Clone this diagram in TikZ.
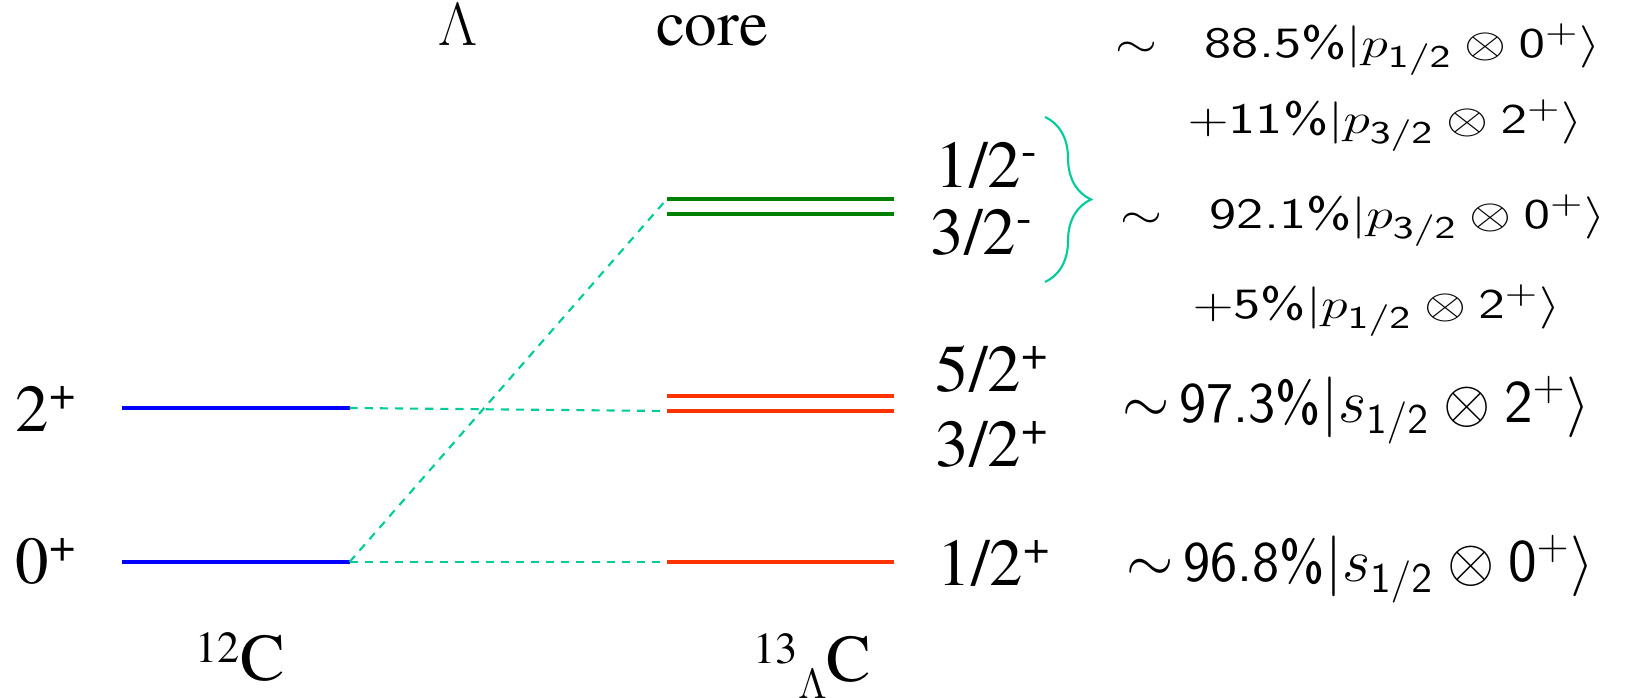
\documentclass[tikz,border=0pt]{standalone}
\usepackage[no-math]{fontspec}
\setmainfont{texgyretermes}[Extension=.otf, UprightFont=*-regular, BoldFont=*-bold, ItalicFont=*-italic, BoldItalicFont=*-bolditalic]
\usetikzlibrary{decorations.pathreplacing}
\definecolor{cblue}{HTML}{0000FF}
\definecolor{cgreen}{HTML}{008000}
\definecolor{cred}{HTML}{FF3300}
\definecolor{cteal}{HTML}{00CC99}
\tikzset{
  level/.style={fill=#1, minimum width=2.27cm, minimum height=1.1pt, inner sep=0pt, outer sep=0pt},
  link/.style={draw=cteal, line width=0.6pt, dash pattern=on 2.3pt off 2pt},
  spin/.style={font=\rmfamily\fontsize{19}{22}\selectfont, anchor=base west, inner sep=0pt},
  head/.style={font=\rmfamily\fontsize{18.5}{22}\selectfont, anchor=base, inner sep=0pt},
  mix/.style={font=\sffamily\fontsize{16.4}{19}\selectfont, anchor=base west, inner sep=0pt},
  mixs/.style={font=\sffamily\fontsize{12.3}{14}\selectfont, anchor=base west, inner sep=0pt},
}
\newcommand{\wide}[1]{\scalebox{1.28}[1]{#1}}
\newcommand{\sml}{\fontsize{12.6}{13}\selectfont}

\begin{document}
\begin{tikzpicture}[x=0.01cm, y=-0.01cm]
  \useasboundingbox (0,0) rectangle (1627,698);
  \node[level=cblue] (gs12) at (236,562) {};
  \node[level=cblue] (ex12) at (236,408) {};
  \node[level=cred] (gs13) at (780.5,562) {};
  \node[level=cred] (p32) at (780.5,411) {};
  \node[level=cred] (p52) at (780.5,396) {};
  \node[level=cgreen] (m32) at (780.5,214) {};
  \node[level=cgreen] (m12) at (780.5,199) {};
  \draw[link] (gs12.east) -- (gs13.west);
  \draw[link] (ex12.east) -- (p32.west);
  \draw[link] (gs12.east) -- (m12.west);
  \node[spin] (l2p) at (15,432) {2\textsuperscript{+}};
  \node[spin] (l0p) at (15,584) {0\textsuperscript{+}};
  \node[spin] (l12c) at (195,681) {\raisebox{5.4pt}{\sml 12}C};
  \node[spin] (l13c) at (753,682) {\raisebox{5.4pt}{\sml 13}\raisebox{-4.8pt}{\sml $\Lambda$}C};
  \node[spin] (lm12) at (935,188) {1/2\textsuperscript{-}};
  \node[spin] (lm32) at (930,255) {3/2\textsuperscript{-}};
  \node[spin] (lp52) at (935,392) {5/2\textsuperscript{+}};
  \node[spin] (lp32) at (935,467) {3/2\textsuperscript{+}};
  \node[spin] (lp12) at (937,586) {1/2\textsuperscript{+}};
  \node[head] (lam) at (458,46) {$\Lambda$};
  \node[head] (core) at (712,46) {core};
  \coordinate (bt) at (1045,117);
  \coordinate (bb) at (1045,282);
  \draw[cteal, line width=0.6pt, decorate, decoration={brace, amplitude=0.46cm}] (bt) -- (bb);
  \node[mixs] (wm1) at (1115,58) {\wide{$\sim$\hspace{0.85em}\textsf{88.5\%}$|p_{\mathsf{1/2}}\otimes\mathsf{0}^{\mathsf{+}}\rangle$}};
  \node[mixs] (wm2) at (1187,134) {\wide{$+$\textsf{11\%}$|p_{\mathsf{3/2}}\otimes\mathsf{2}^{\mathsf{+}}\rangle$}};
  \node[mixs] (wm3) at (1120,229) {\wide{$\sim$\hspace{0.85em}\textsf{92.1\%}$|p_{\mathsf{3/2}}\otimes\mathsf{0}^{\mathsf{+}}\rangle$}};
  \node[mixs] (wm4) at (1192,319) {\wide{$+$\textsf{5\%}$|p_{\mathsf{1/2}}\otimes\mathsf{2}^{\mathsf{+}}\rangle$}};
  \node[mix] (wp52) at (1122,423) {$\sim$\,\textsf{97.3\%}$|s_{\mathsf{1/2}}\otimes\mathsf{2}^{\mathsf{+}}\rangle$};
  \node[mix] (wp12) at (1126,582) {$\sim$\,\textsf{96.8\%}$|s_{\mathsf{1/2}}\otimes\mathsf{0}^{\mathsf{+}}\rangle$};
\end{tikzpicture}
\end{document}
